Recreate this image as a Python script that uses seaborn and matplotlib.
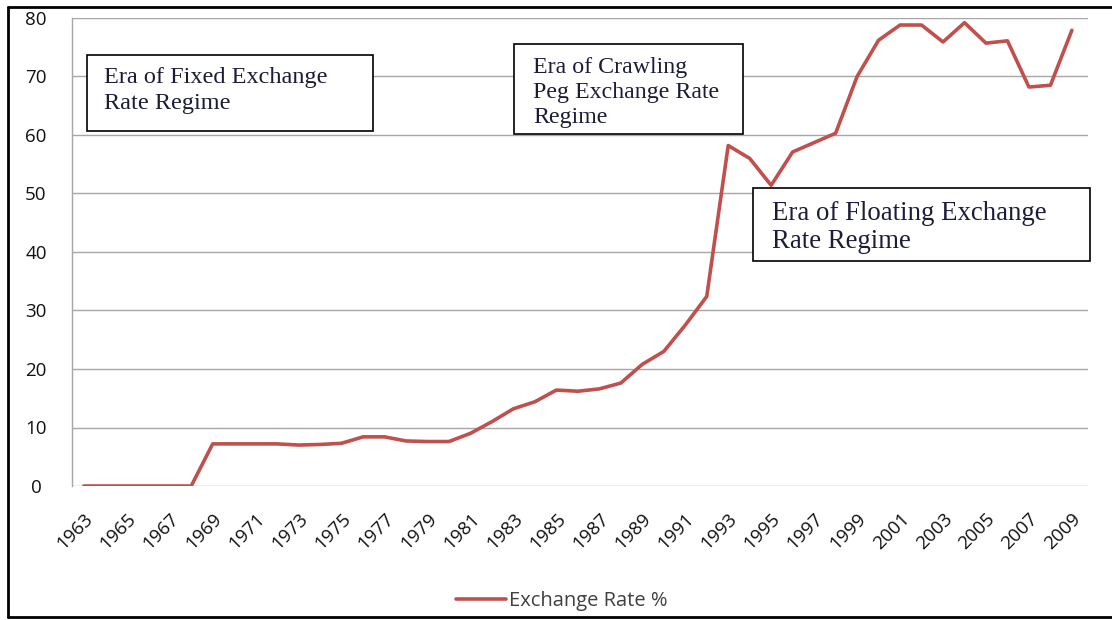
import pandas as pd
import numpy as np
import matplotlib.pyplot as plt
import matplotlib.patches as mpatches
import seaborn as sns

# Exchange rate values
years = list(range(1963, 2010))
rate = [0, 0, 0, 0, 0, 0, 7.2, 7.2, 7.2, 7.2, 7.0, 7.1, 7.3, 8.4, 8.4,
        7.7, 7.6, 7.6, 9.0, 11.0, 13.2, 14.4, 16.4, 16.2, 16.6, 17.6, 20.8,
        23.0, 27.5, 32.4, 58.2, 56.0, 51.4, 57.1, 58.7, 60.3, 70.0, 76.2,
        78.8, 78.8, 75.9, 79.2, 75.7, 76.1, 68.2, 68.5, 77.9]
tick_years = years[::2]
series_name = "Exchange Rate %"

box_texts = ["Era of Fixed Exchange\nRate Regime",
             "Era of Crawling\nPeg Exchange Rate\nRegime",
             "Era of Floating Exchange\nRate Regime"]

df = pd.DataFrame({"Year": years, series_name: rate})

sns.set_style("white")
plt.rcParams["font.family"] = ["Open Sans", "DejaVu Sans"]

W, H = 1112, 620
fig = plt.figure(figsize=(W / 100, H / 100), dpi=100)
ax = fig.add_axes([72 / W, 1 - 486 / H, (1088 - 72) / W, (486 - 18) / H])

sns.lineplot(data=df, x="Year", y=series_name, ax=ax, color="#C0504D",
             linewidth=2.6, label=series_name, legend=False)

ax.set_xlim(1962.45, 2009.75)
ax.set_ylim(0, 80)
ax.set_yticks(range(0, 81, 10))
ax.set_xticks(tick_years)
ax.set_xticklabels([str(y) for y in tick_years], rotation=45, ha="right",
                   rotation_mode="anchor", fontsize=13.5, color="#111111")
ax.tick_params(axis="x", length=0, pad=17)
ax.tick_params(axis="y", length=0, pad=26, labelsize=13.5, labelcolor="#111111")
for lbl in ax.get_yticklabels():
    lbl.set_horizontalalignment("center")
ax.grid(axis="y", color="#a6a6a6", linewidth=1)
ax.set_axisbelow(True)
ax.set_xlabel("")
ax.set_ylabel("")
for s in ["top", "right", "bottom"]:
    ax.spines[s].set_visible(False)
ax.spines["left"].set_color("#a6a6a6")
ax.spines["left"].set_linewidth(1)

# text boxes (pixel positions in figure)
boxes = [(87, 55, 373, 131), (514, 44, 743, 134), (753, 188, 1090, 261)]
text_pos = [(104, 67), (533, 57), (772, 201)]
sizes = [17.5, 17.2, 19.3]
spacing = [1.31, 1.24, 1.18]
for (x0, y0, x1, y1), (tx, ty), txt, fs, ls in zip(boxes, text_pos, box_texts,
                                                   sizes, spacing):
    rect = mpatches.Rectangle((x0 / W, 1 - y1 / H), (x1 - x0) / W, (y1 - y0) / H,
                              transform=fig.transFigure, facecolor="white",
                              edgecolor="black", linewidth=1.2, zorder=5)
    fig.add_artist(rect)
    t = fig.text(tx / W, 1 - ty / H, txt, family=["Liberation Serif"],
                 fontsize=fs, color="#1c1c38", va="top", ha="left",
                 linespacing=ls, zorder=6)
    t.set_clip_path(rect)

# legend at the bottom
handles, labels = ax.get_legend_handles_labels()
fig.legend(handles, labels, loc="center", bbox_to_anchor=(0.505, 1 - 601 / H),
           frameon=False, fontsize=14.5, handlelength=2.5, handletextpad=0.15,
           labelcolor="#404040")

# outer frame
frame_kw = dict(transform=fig.transFigure, color="black", linewidth=2)
fig.add_artist(plt.Line2D([8 / W, 8 / W], [1 - 7 / H, 1 - 617 / H], **frame_kw))
fig.add_artist(plt.Line2D([8 / W, 1], [1 - 7 / H, 1 - 7 / H], **frame_kw))
fig.add_artist(plt.Line2D([8 / W, 1], [1 - 617 / H, 1 - 617 / H], **frame_kw))

fig.savefig("out.png", dpi=100)
